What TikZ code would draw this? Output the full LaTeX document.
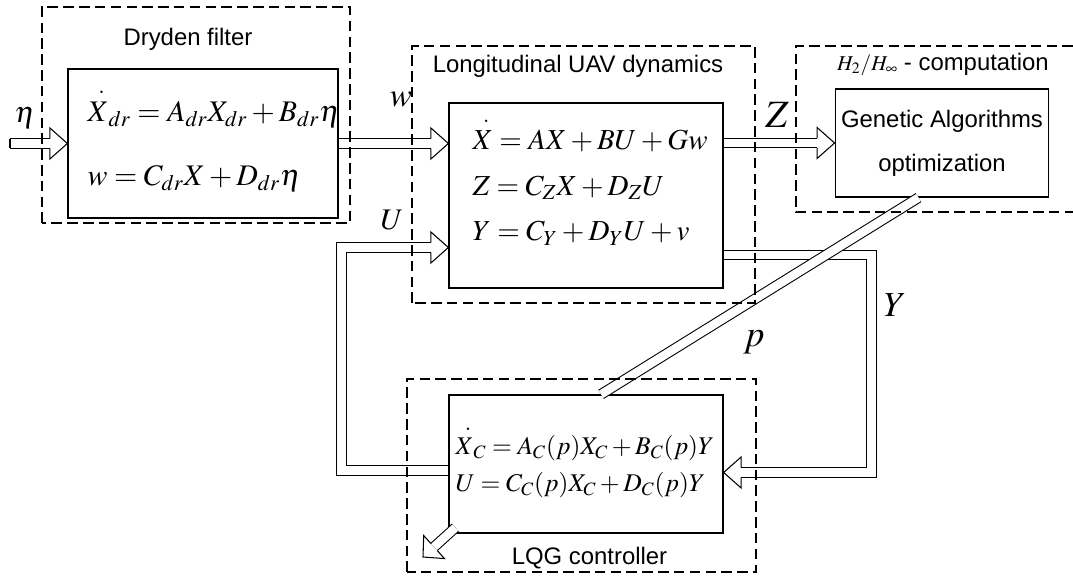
\documentclass[tikz,border=0pt]{standalone}
\usepackage{mathptmx}
\usepackage{amsmath}
\usepackage[no-math]{fontspec}
\setsansfont{Liberation Sans}

\newcommand{\dotX}{\overset{\raisebox{1.5pt}{\kern4pt.}}{X}}

\begin{document}
\begin{tikzpicture}[
    line width=0.6pt,
    blk/.style={draw, line width=0.7pt},
    frame/.style={draw, dash pattern=on 6pt off 3pt},
    dbl/.style={double, double distance=0.17cm},
    tohead/.style={shorten >=0.35cm},
    title/.style={font=\sffamily\fontsize{13.6}{16}\selectfont},
    eqs/.style={align=left, inner sep=0pt, anchor=west},
    sig/.style={inner sep=0pt},
    blkhead/.pic={\draw (-0.35,0.096) -- (-0.35,0.31) -- (0,0) -- (-0.35,-0.31) -- (-0.35,-0.096);}
]
    \useasboundingbox (0,0) rectangle (21.46,11.52);

    % Bloques del lazo
    \node[blk, minimum width=5.4cm, minimum height=2.98cm] (dryden) at (4.06,8.65) {};
    \node[blk, minimum width=5.48cm, minimum height=3.7cm] (dyn) at (11.72,7.61) {};
    \node[blk, title, align=center, minimum width=4.2cm, minimum height=2.16cm] (ga) at (18.84,8.66) {Genetic Algorithms\\[9pt]optimization};
    \node[blk, minimum width=5.48cm, minimum height=2.76cm] (lqg) at (11.72,2.24) {};

    % Ecuaciones dentro de los bloques
    \node[eqs, font=\fontsize{17}{20.4}\selectfont] (dryeq) at (1.74,8.73)
        {$\dotX_{dr} = A_{dr}X_{dr} + B_{dr}\eta$\\[16pt]$w = C_{dr}X + D_{dr}\eta$};
    \node[eqs, font=\fontsize{16.5}{20}\selectfont] (dyneq) at (9.44,7.9)
        {$\dotX = AX + BU + Gw$\\[6pt]$Z = C_Z X + D_Z U$\\[6pt]$Y = C_Y + D_Y U + v$};
    \node[eqs, font=\fontsize{14.5}{17.4}\selectfont] (lqgeq) at (9.1,2.29)
        {$\dotX_C = A_C(p)X_C + B_C(p)Y$\\[3.5pt]$U = C_C(p)X_C + D_C(p)Y$};

    % Titulos de los marcos
    \node[title] (drytitle) at (3.76,10.74) {Dryden filter};
    \node[title] (dyntitle) at (11.56,10.2) {Longitudinal UAV dynamics};
    \node[title] (gatitle) at (18.86,10.24) {\fontsize{12}{12}\selectfont$H_{2}/H_{\infty}$ \fontsize{13.6}{16}\selectfont- computation};
    \node[title] (lqgtitle) at (11.79,0.36) {LQG controller};

    % Puertos
    \coordinate (etain) at (0.2,8.65);
    \coordinate (uin) at (dyn.west |- 0,6.57);
    \coordinate (yout) at (dyn.east |- 0,6.42);
    \coordinate (yin) at (lqg.east |- 0,2.07);
    \coordinate (uout) at (lqg.west |- 0,2.11);
    \coordinate (ctrlout) at (8.46,0.38);

    % Flechas dobles
    \draw[dbl, tohead] (etain) -- (dryden.west);
    \draw (etain) ++(0,0.096) -- ++(0,-0.192);
    \pic at (dryden.west) {blkhead};
    \draw[dbl, tohead] (dryden.east) -- (dyn.west |- dryden.east);
    \pic at (dyn.west |- dryden.east) {blkhead};
    \draw[dbl, tohead] (dyn.east |- ga.west) -- (ga.west);
    \pic at (ga.west) {blkhead};
    \draw[dbl, tohead] (uout) -| (6.83,6.57) -- (uin);
    \pic at (uin) {blkhead};
    \draw[dbl, tohead] (yout) -| (17.43,2.07) -- (yin);
    \pic[rotate=180] at (yin) {blkhead};
    \draw[dbl] (ga.south -| 18.37,0) -- (lqg.north -| 12.02,0);
    \draw[dbl, shorten >=0.3cm] ([shift={(0.14,0.12)}]lqg.south west) -- (ctrlout);
    \pic[rotate=222, xscale=0.85] at (ctrlout) {blkhead};

    % Senales
    \node[sig, font=\fontsize{17}{17}\selectfont] (etalab) at (0.5,9.16) {$\eta$};
    \node[sig, font=\fontsize{19}{19}\selectfont] (wlab) at (8.02,9.53) {$w$};
    \node[sig, font=\fontsize{17}{17}\selectfont] (ulab) at (7.84,7.12) {$U$};
    \node[sig, font=\fontsize{22}{22}\selectfont] (zlab) at (15.54,9.22) {$Z$};
    \node[sig, font=\fontsize{20}{20}\selectfont] (ylab) at (17.9,5.42) {$Y$};
    \node[sig, font=\fontsize{21}{21}\selectfont] (plab) at (15.08,4.68) {$p$};

    % Marcos punteados
    \draw[frame] (0.84,7.06) rectangle (7.0,11.38);
    \draw[frame] (8.24,5.46) rectangle (15.1,10.6);
    \draw[frame] (21.46,10.6) -- (15.92,10.6) -- (15.92,7.28) -- (21.46,7.28);
    \draw[frame] (8.14,0.08) rectangle (15.12,3.94);
\end{tikzpicture}
\end{document}
